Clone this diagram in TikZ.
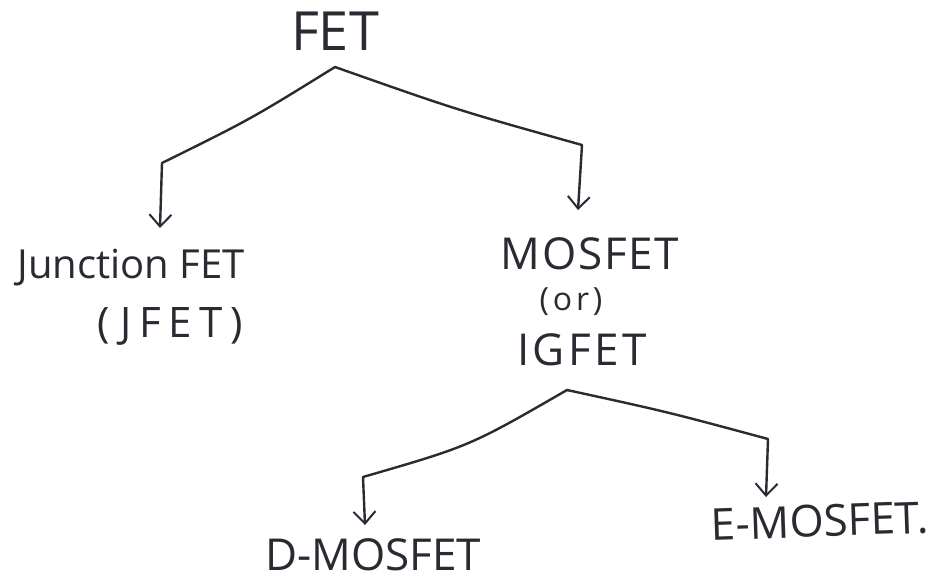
\documentclass[tikz,border=0pt]{standalone}
\usepackage{fontspec}
\setmainfont{Open Sans}
\usetikzlibrary{arrows.meta}
\definecolor{ink}{HTML}{2A2A32}
\tikzset{
  lbl/.style={text=ink, inner sep=0pt, anchor=center},
  conn/.style={draw=ink, line width=2.4pt, line cap=round, line join=round},
  arr/.style={conn, -{Straight Barb[length=12pt,width=22pt,line width=2pt]}},
}
\begin{document}
\begin{tikzpicture}[x=1pt,y=-1pt]
\useasboundingbox[fill=white] (0,0) rectangle (936,584);
% labels
\node[lbl, font=\fontsize{54}{56}\selectfont] (fet) at (335,31) {FET};
\node[lbl, font=\fontsize{40}{42}\selectfont] (jfetA) at (131,268) {Junction FET};
\node[lbl, font=\fontsize{42}{44}\selectfont\addfontfeatures{LetterSpace=18}] (jfetB) at (170,326) {(JFET)};
\node[lbl, font=\fontsize{44}{46}\selectfont\addfontfeatures{LetterSpace=4}] (mos) at (590,254) {MOSFET};
\node[lbl, font=\fontsize{32}{34}\selectfont\addfontfeatures{LetterSpace=12}] (or) at (571,302) {(or)};
\node[lbl, font=\fontsize{44}{46}\selectfont\addfontfeatures{LetterSpace=8}] (ig) at (582,350) {IGFET};
\node[lbl, font=\fontsize{44}{46}\selectfont] (dmos) at (373,555) {D-MOSFET};
\node[lbl, font=\fontsize{44}{46}\selectfont, rotate=2] (emos) at (820,521) {E-MOSFET.};
% connector points
\coordinate (b1) at (335,67);
\coordinate (k1) at (251,119);
\coordinate (c1) at (162,163);
\coordinate (t1) at (160,228);
\coordinate (k2) at (457,110);
\coordinate (c2) at (582,145);
\coordinate (t2) at (578,210);
\coordinate (b2) at (567,390);
\coordinate (k3) at (470,446);
\coordinate (c3) at (363,477);
\coordinate (t3) at (365,525);
\coordinate (k4) at (668,412);
\coordinate (c4) at (768,439);
\coordinate (t4) at (766,497);
% connectors
\draw[arr] (b1) .. controls (k1) .. (c1) -- (t1);
\draw[arr] (b1) .. controls (k2) .. (c2) -- (t2);
\draw[arr] (b2) .. controls (k3) .. (c3) -- (t3);
\draw[arr] (b2) .. controls (k4) .. (c4) -- (t4);
\end{tikzpicture}
\end{document}
